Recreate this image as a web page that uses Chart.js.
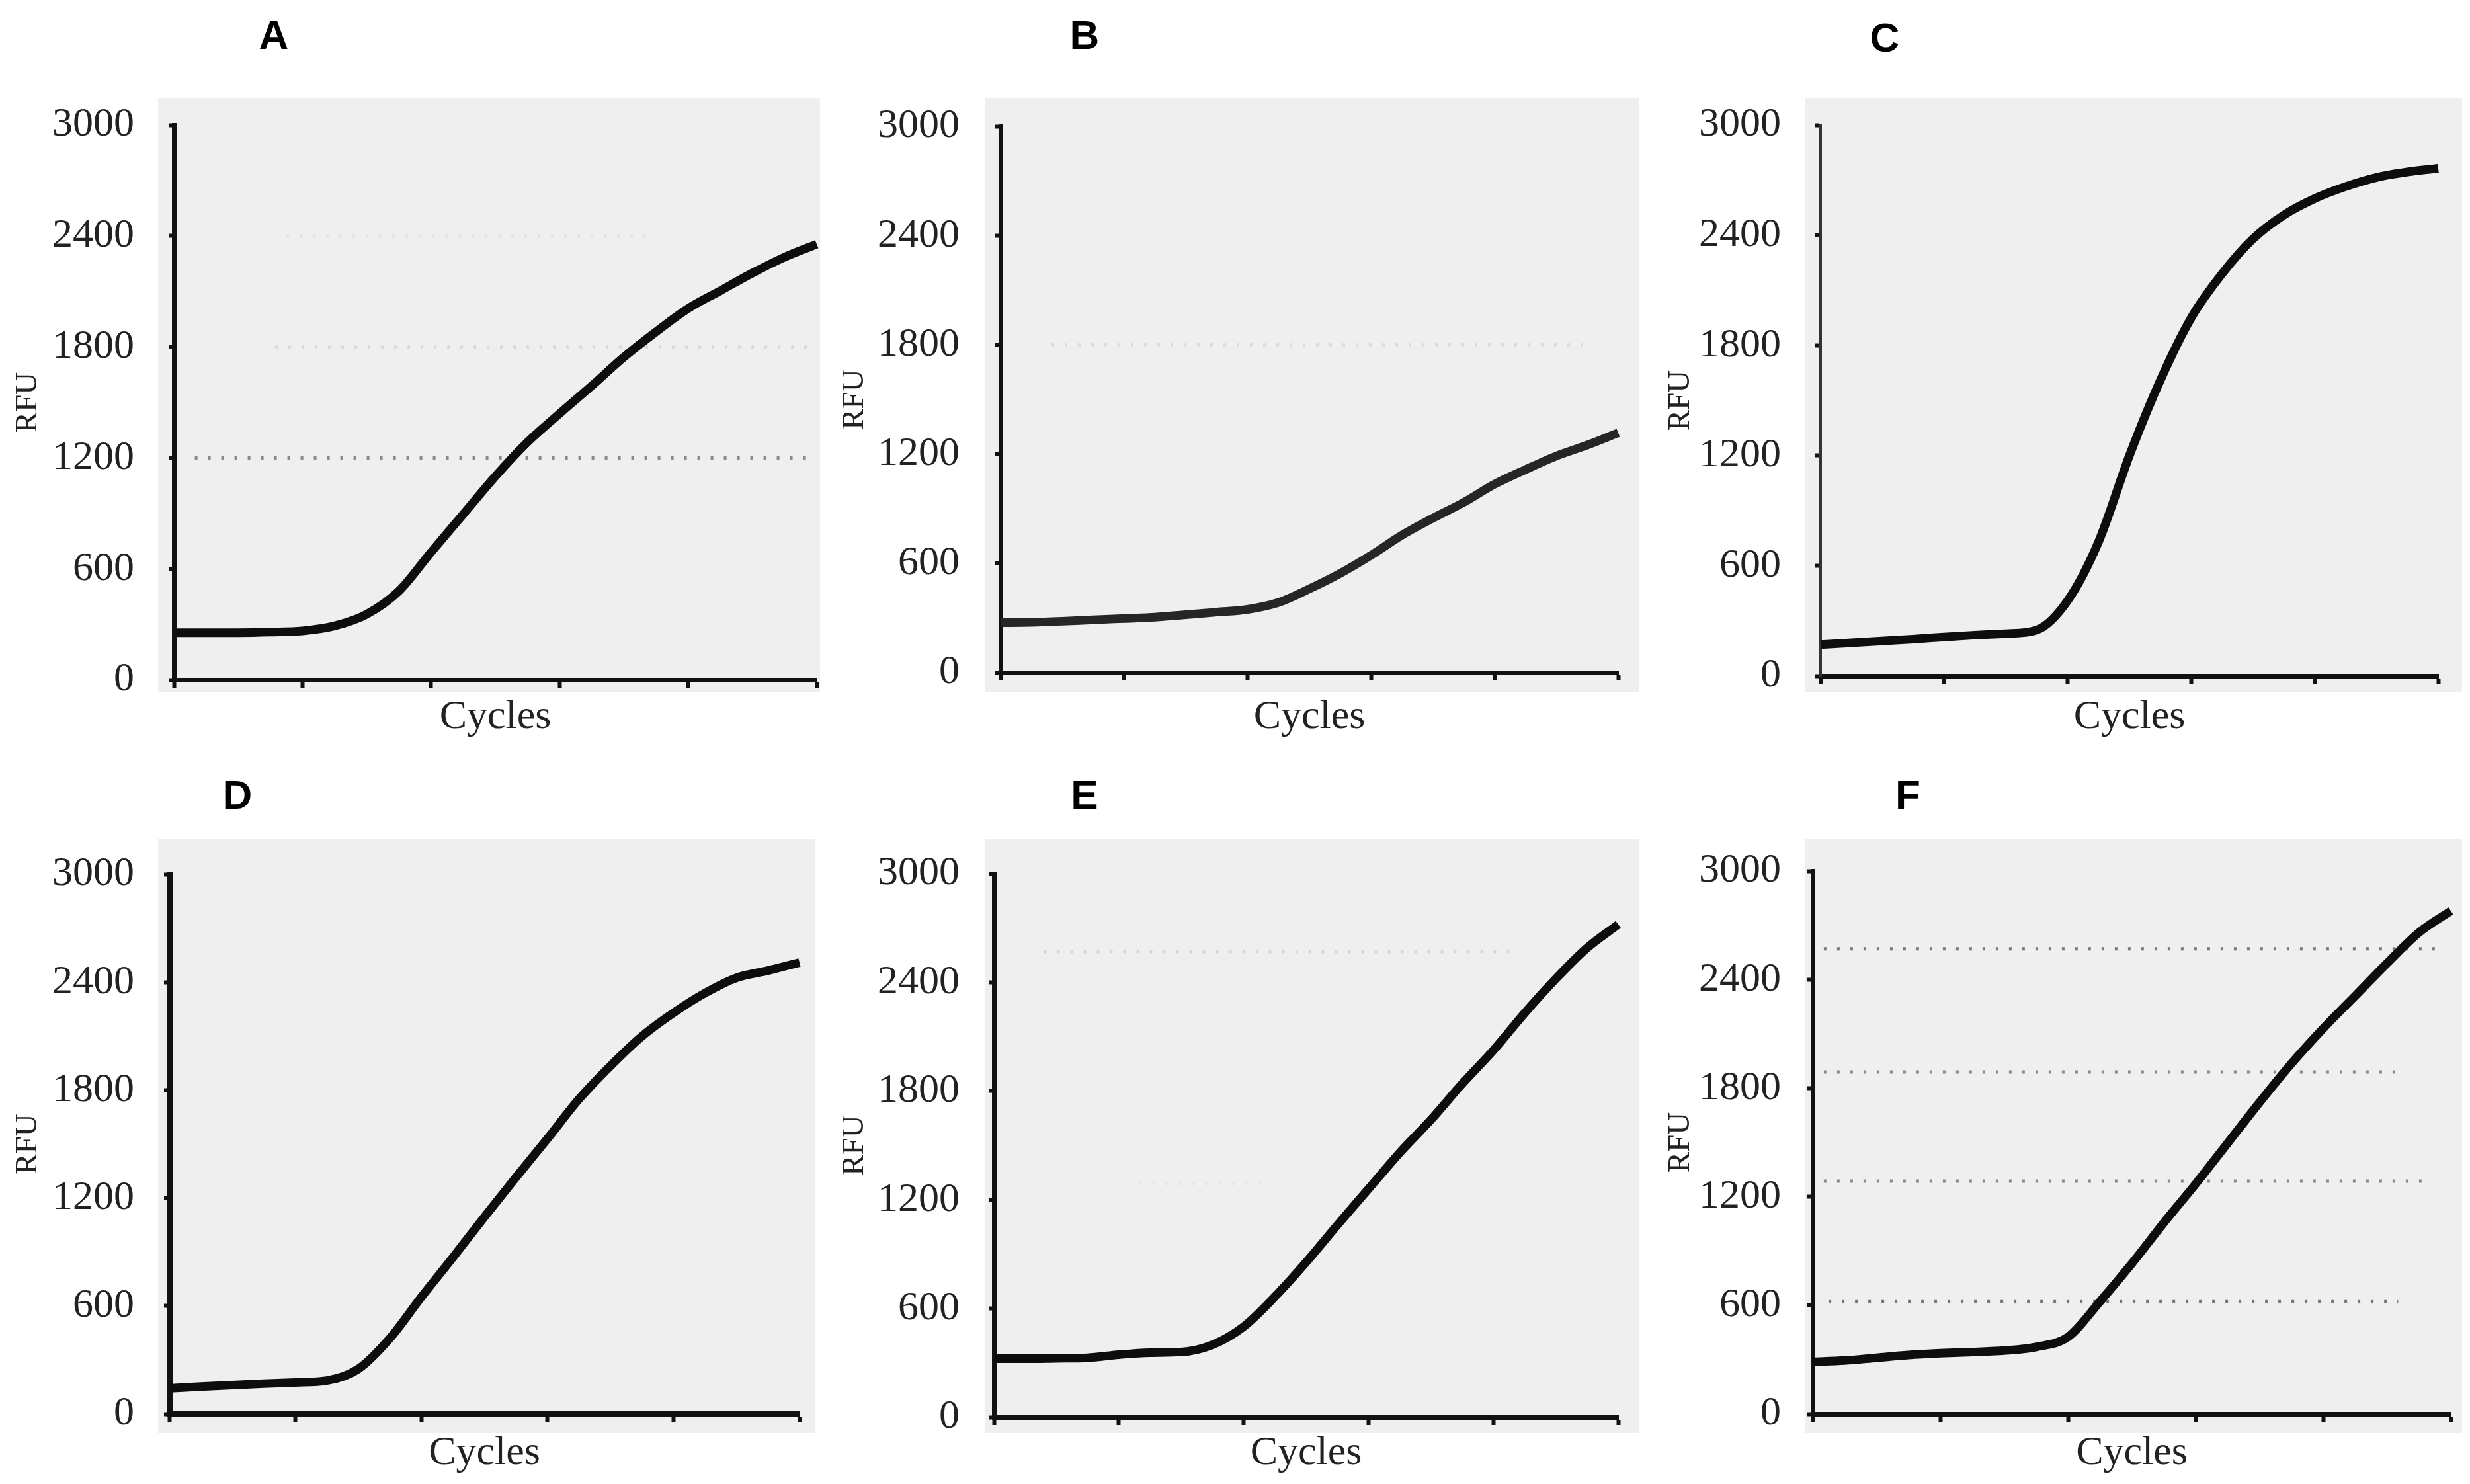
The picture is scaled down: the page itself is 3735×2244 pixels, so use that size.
<!DOCTYPE html>
<html>
<head>
<meta charset="utf-8">
<script src="https://cdn.jsdelivr.net/npm/chart.js@4.4.1/dist/chart.umd.min.js"></script>
<style>
  html, body { margin: 0; padding: 0; background: #fff; }
  #wrap { position: relative; width: 3735px; height: 2244px; overflow: hidden; background: #fff; }
  #wrap canvas { position: absolute; }
  .tag { position: absolute; font: bold 62px "Liberation Sans", Arial, sans-serif; color: #000;
         transform: translate(-50%, -50%); line-height: 1; }
</style>
</head>
<body>
<div id="wrap"></div>
<script>
// cycle numbers sampled along the x axis (no labels are shown on it)
var cycles = [0, 2, 4, 6, 8, 10, 12, 14, 16, 18, 20, 22, 24, 26, 28, 30, 32, 34, 36, 38, 40];
var xTickStep = 8;
var yTicks = [0, 600, 1200, 1800, 2400, 3000];

// RFU
var rfuA = [255, 255, 255, 258, 265, 292, 355, 480, 690, 895, 1100, 1285, 1440, 1590, 1745, 1882, 2008, 2104, 2200, 2286, 2356];
var rfuB = [274, 276, 282, 290, 297, 304, 318, 332, 347, 385, 460, 545, 645, 755, 848, 935, 1035, 1115, 1190, 1250, 1317];
var rfuC = [170, 180, 190, 200, 212, 222, 230, 250, 410, 730, 1200, 1610, 1950, 2190, 2380, 2510, 2600, 2665, 2715, 2745, 2765];
var rfuD = [142, 152, 160, 168, 175, 185, 250, 420, 650, 870, 1095, 1315, 1530, 1750, 1935, 2100, 2230, 2340, 2425, 2465, 2510];
var rfuE = [323, 323, 325, 328, 345, 356, 360, 400, 500, 665, 855, 1060, 1260, 1460, 1642, 1840, 2025, 2230, 2420, 2590, 2720];
var rfuF = [288, 295, 310, 325, 335, 342, 350, 370, 425, 620, 830, 1055, 1270, 1495, 1720, 1935, 2130, 2310, 2490, 2660, 2780];

// dotted threshold lines: level, first cycle, last cycle
var refLevelA = [1200, 1800, 2400];
var refFromA = [1.3, 6.3, 7];
var refToA = [39.8, 39.5, 30];
var refLevelB = [1800];
var refFromB = [3.3];
var refToB = [38.3];
var refLevelE = [2570, 1290];
var refFromE = [3.2, 9.3];
var refToE = [33, 17.8];
var refLevelF = [2570, 1890, 1287, 620];
var refFromF = [0.7, 0.7, 0.7, 1];
var refToF = [39.3, 37, 38.7, 36.7];

var panels = [
  { tag: 'A', rfu: rfuA, lv: refLevelA, from: refFromA, to: refToA, refColor: ['#8a8a8a', '#dadada', '#e2e2e2'],
    box: [0, 100, 1245, 1030], axisX: 263, endX: 1235, y0: 1028, yTop: 174, rfuX: 43, cycY: 1085, gap: 60,
    bg: [239, 148, 1240, 1046], tagXY: [414, 53] },
  { tag: 'B', rfu: rfuB, lv: refLevelB, from: refFromB, to: refToB, refColor: ['#dcdcdc'],
    box: [1245, 100, 1245, 1030], axisX: 1513, endX: 2447, y0: 1017, yTop: 172, rfuX: 1293, cycY: 1085, gap: 62,
    bg: [1489, 148, 2478, 1046], tagXY: [1640, 53], lineColor: '#262626' },
  { tag: 'C', rfu: rfuC, lv: [], from: [], to: [], refColor: [],
    box: [2490, 100, 1245, 1030], axisX: 2753, endX: 3687, y0: 1022, yTop: 172, rfuX: 2542, cycY: 1085, gap: 60,
    bg: [2729, 148, 3723, 1046], tagXY: [2850, 57], thinAxis: true },
  { tag: 'D', rfu: rfuD, lv: [], from: [], to: [], refColor: [],
    box: [0, 1240, 1245, 1004], axisX: 256, endX: 1209, y0: 2138, yTop: 1317, rfuX: 43, cycY: 2198, gap: 53,
    bg: [239, 1269, 1233, 2167], tagXY: [359, 1202], axisW: 9 },
  { tag: 'E', rfu: rfuE, lv: refLevelE, from: refFromE, to: refToE, refColor: ['#d6d6d6', '#e6e6e6'],
    box: [1245, 1240, 1245, 1004], axisX: 1503, endX: 2447, y0: 2143, yTop: 1317, rfuX: 1293, cycY: 2198, gap: 52,
    bg: [1489, 1269, 2478, 2167], tagXY: [1640, 1202] },
  { tag: 'F', rfu: rfuF, lv: refLevelF, from: refFromF, to: refToF, refColor: ['#777', '#8a8a8a', '#8a8a8a', '#777'],
    box: [2490, 1240, 1245, 1004], axisX: 2741, endX: 3706, y0: 2138, yTop: 1317, rfuX: 2542, cycY: 2198, gap: 48,
    bg: [2729, 1269, 3723, 2167], tagXY: [2885, 1202] }
];

var RFU_FONT = 47, CYC_FONT = 62, LH = 1.2;
var SERIF = '"Liberation Serif", "Times New Roman", serif';
var wrap = document.getElementById('wrap');

var bgPlugin = {
  id: 'plotBg',
  beforeDraw: function (chart, args, opts) {
    var ctx = chart.ctx;
    ctx.save();
    ctx.fillStyle = '#efefef';
    ctx.fillRect(opts.x1, opts.y1, opts.x2 - opts.x1, opts.y2 - opts.y1);
    ctx.restore();
  }
};

panels.forEach(function (p) {
  var L = p.box[0], T = p.box[1], W = p.box[2], H = p.box[3];
  var cv = document.createElement('canvas');
  cv.width = W; cv.height = H;
  cv.style.left = L + 'px'; cv.style.top = T + 'px';
  cv.style.width = W + 'px'; cv.style.height = H + 'px';
  wrap.appendChild(cv);

  var tag = document.createElement('div');
  tag.className = 'tag';
  tag.textContent = p.tag;
  tag.style.left = p.tagXY[0] + 'px';
  tag.style.top = p.tagXY[1] + 'px';
  wrap.appendChild(tag);

  var rfuHalf = RFU_FONT * LH / 2, cycHalf = CYC_FONT * LH / 2;
  var scaleLeft = p.rfuX - rfuHalf;
  var axisW = p.axisW || 7;

  var datasets = [{
    data: cycles.map(function (c, i) { return { x: c, y: p.rfu[i] }; }),
    borderColor: p.lineColor || '#0d0d0d',
    borderWidth: 13,
    pointRadius: 0,
    cubicInterpolationMode: 'monotone',
    clip: false
  }];
  p.lv.forEach(function (lvl, i) {
    datasets.push({
      data: [{ x: p.from[i], y: lvl }, { x: p.to[i], y: lvl }],
      borderColor: p.refColor[i],
      borderWidth: 5,
      borderDash: [4, 16],
      pointRadius: 0
    });
  });

  new Chart(cv, {
    type: 'line',
    data: { datasets: datasets },
    options: {
      responsive: false,
      animation: false,
      devicePixelRatio: 1,
      layout: {
        padding: {
          left: scaleLeft - L,
          top: p.yTop - T,
          right: L + W - p.endX,
          bottom: T + H - (p.cycY + cycHalf)
        }
      },
      plugins: {
        legend: { display: false },
        tooltip: { enabled: false },
        plotBg: { x1: p.bg[0] - L, y1: p.bg[1] - T, x2: p.bg[2] - L, y2: p.bg[3] - T }
      },
      scales: {
        x: {
          type: 'linear',
          min: 0, max: 40,
          ticks: { display: false, stepSize: xTickStep },
          grid: { drawOnChartArea: false, drawTicks: true, tickLength: 12, tickWidth: 6, tickColor: '#111' },
          border: { display: true, color: '#111', width: axisW },
          title: {
            display: true, text: 'Cycles', color: '#222', padding: 0,
            font: { family: SERIF, size: CYC_FONT, lineHeight: LH }
          },
          afterFit: function (s) { s.height = p.cycY + cycHalf - p.y0; }
        },
        y: {
          type: 'linear',
          min: 0, max: 3000,
          afterBuildTicks: function (s) { s.ticks = yTicks.map(function (v) { return { value: v }; }); },
          ticks: {
            color: '#222', padding: p.gap - 8,
            font: { family: SERIF, size: 62 },
            callback: function (v) { return String(v); }
          },
          grid: { drawOnChartArea: false, drawTicks: true, tickLength: 8, tickWidth: 6, tickColor: '#111' },
          border: p.thinAxis ? { display: true, color: '#333', width: 4, dash: [5, 4] }
                             : { display: true, color: '#111', width: axisW },
          title: {
            display: true, text: 'RFU', color: '#222', padding: 0,
            font: { family: SERIF, size: RFU_FONT, lineHeight: LH }
          },
          afterFit: function (s) { s.width = p.axisX - scaleLeft; }
        }
      }
    },
    plugins: [bgPlugin]
  });
});
</script>
</body>
</html>
